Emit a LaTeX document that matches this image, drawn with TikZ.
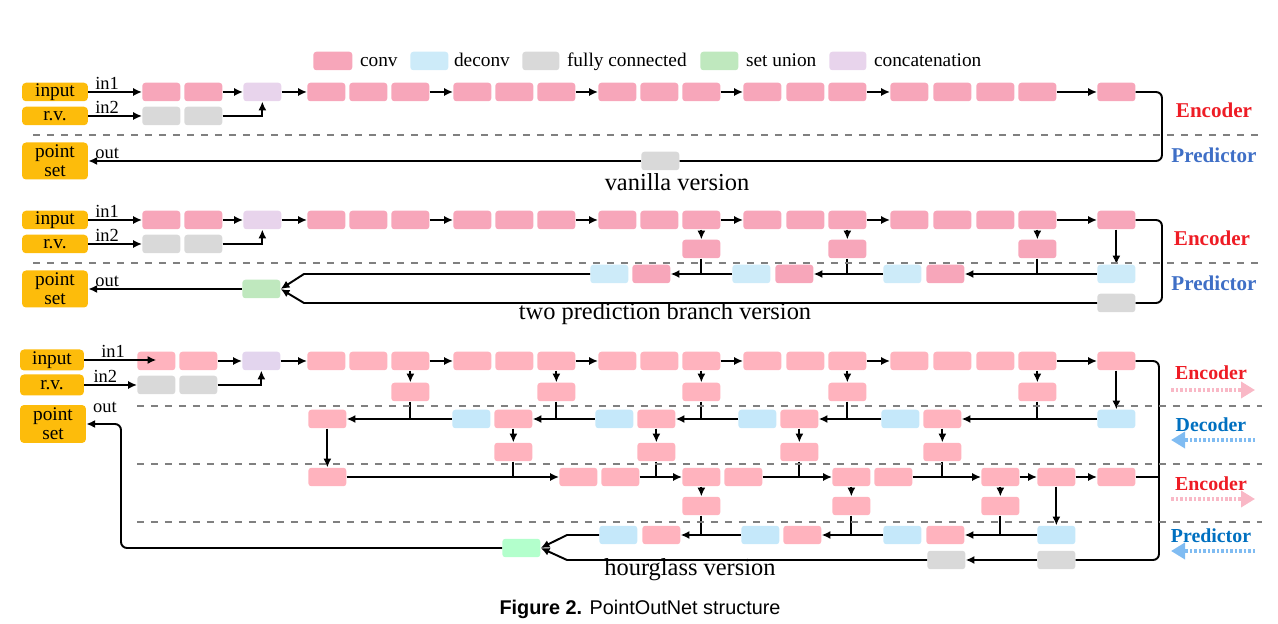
\documentclass[tikz,border=0pt]{standalone}
\usepackage{fontspec}
\setmainfont{Liberation Serif}
\newfontfamily\capfont{Liberation Sans}
\usetikzlibrary{positioning,calc,arrows.meta}

\newcommand{\fsz}[1]{\fontsize{#1}{#1}\selectfont}

\definecolor{convc}{HTML}{F7A6BA}
\definecolor{convh}{HTML}{FFB3BE}
\definecolor{deconvc}{HTML}{CDEBF9}
\definecolor{deconvh}{HTML}{C5E8FA}
\definecolor{fcc}{HTML}{D9D9D9}
\definecolor{unionc}{HTML}{BFE8BE}
\definecolor{unionh}{HTML}{B3FFCC}
\definecolor{concatc}{HTML}{E8D4EC}
\definecolor{concath}{HTML}{E3D5EE}
\definecolor{ioc}{HTML}{FDBC0B}
\definecolor{encred}{HTML}{EE1C25}
\definecolor{predblue}{HTML}{3F6FC6}
\definecolor{hblue}{HTML}{0070C0}
\definecolor{dotpink}{HTML}{F9B8C6}
\definecolor{dotblue}{HTML}{80BCF2}

\tikzset{
  blk/.style={rectangle, rounded corners=0.06cm, minimum width=0.76cm,
    minimum height=0.37cm, inner sep=0pt, anchor=west},
  conv/.style={blk, fill=convc},
  deconv/.style={blk, fill=deconvc},
  fc/.style={blk, fill=fcc},
  union/.style={blk, fill=unionc},
  concat/.style={blk, fill=concatc},
  io/.style={rectangle, rounded corners=0.08cm, fill=ioc, minimum width=1.32cm,
    minimum height=0.37cm, inner sep=0pt, align=center, font=\fsz{11}},
  arr/.style={line width=1.1pt, -{Latex[length=5pt,width=4.6pt]}},
  ln/.style={line width=1.1pt},
  sepline/.style={draw=black!50, line width=0.04cm, dash pattern=on 0.15cm off 0.13cm},
  lbl/.style={inner sep=1pt, font=\fsz{10.5}},
  lgd/.style={inner sep=0pt, font=\fsz{11}, anchor=west, text height=1.6ex, text depth=0.3ex},
  ttl/.style={font=\fsz{13.9}},
  enc/.style={font=\bfseries\fsz{12}, text=encred},
  pred/.style={font=\bfseries\fsz{12}, text=predblue},
  dotarr/.style={line width=0.07cm, dash pattern=on 0.05cm off 0.04cm,
    -{Triangle[length=0.28cm,width=0.32cm]}},
}

\begin{document}
\begin{tikzpicture}[x=0.02cm, y=-0.02cm]
  \useasboundingbox (0,0) rectangle (1278,624);

  % legend
  \node[conv, minimum width=0.78cm] (lconv) at (313,61) {};
  \node[lgd, right=0.14cm of lconv] (lconvt) {conv};
  \node[deconv] (ldec) at (410,61) {};
  \node[lgd, right=0.1cm of ldec] (ldect) {deconv};
  \node[fc, minimum width=0.74cm] (lfc) at (522,61) {};
  \node[lgd, right=0.14cm of lfc] (lfct) {fully connected};
  \node[union] (lun) at (700,61) {};
  \node[lgd, right=0.14cm of lun] (lunt) {set union};
  \node[concat, minimum width=0.74cm] (lcat) at (829,61) {};
  \node[lgd, right=0.14cm of lcat] (lcatt) {concatenation};

  % vanilla version
  \begin{scope}
    \node[io] (vin) at (55,92) {input};
    \node[io] (vrv) at (55,116) {r.v.};
    \node[io, minimum height=0.74cm] (vps) at (55,161) {point\\set};
    \node[conv] (vx1) at (142,92) {};
    \node[conv] (vx2) at (184,92) {};
    \node[fc] (vf1) at (142,116) {};
    \node[fc] (vf2) at (184,116) {};
    \node[concat] (vcat) at (243,92) {};
    \foreach \x [count=\i] in {307,349,391,453,495,537,598,640,682,743,786,828,890,933,976,1018,1097}
      \node[conv] (v\i) at (\x,92) {};
    \node[fc] (vfc) at (641,161) {};
    \coordinate (vr1) at (1162,92);
    \coordinate (vr2) at (1162,161);
    \coordinate (vd1) at (33,135);
    \coordinate (vd2) at (1262,135);

    \draw[arr] (vin) -- node[lbl, above, pos=0.35] {in1} (vx1);
    \draw[arr] (vrv) -- node[lbl, above, pos=0.35] {in2} (vf1);
    \draw[arr] (vx2) -- (vcat);
    \draw[arr] (vf2) -| (vcat);
    \draw[arr] (vcat) -- (v1);
    \foreach \a/\b in {3/4,6/7,9/10,12/13,16/17}
      \draw[arr] (v\a) -- (v\b);
    \draw[ln, rounded corners=0.12cm] (v17) -- (vr1) -- (vr2) -- (vfc);
    \draw[arr] (vfc) -- node[lbl, above, pos=0.966] {out} (vps);
    \draw[sepline] (vd1) -- (vd2);

    \node[enc] (venc) at (1214,110) {Encoder};
    \node[pred] (vpred) at (1214,155) {Predictor};
    \node[ttl] (vttl) at (677,182) {vanilla version};
  \end{scope}

  % two prediction branch version
  \begin{scope}[shift={(0,128)}]
    \node[io] (tin) at (55,92) {input};
    \node[io] (trv) at (55,116) {r.v.};
    \node[io, minimum height=0.74cm] (tps) at (55,161) {point\\set};
    \node[conv] (tx1) at (142,92) {};
    \node[conv] (tx2) at (184,92) {};
    \node[fc] (tf1) at (142,116) {};
    \node[fc] (tf2) at (184,116) {};
    \node[concat] (tcat) at (243,92) {};
    \foreach \x [count=\i] in {307,349,391,453,495,537,598,640,682,743,786,828,890,933,976,1018,1097}
      \node[conv] (t\i) at (\x,92) {};
    \node[conv] (tb1) at (682,121) {};
    \node[conv] (tb2) at (828,121) {};
    \node[conv] (tb3) at (1018,121) {};
    \node[deconv] (tp1) at (590,146) {};
    \node[conv] (tp2) at (632,146) {};
    \node[deconv] (tp3) at (732,146) {};
    \node[conv] (tp4) at (775,146) {};
    \node[deconv] (tp5) at (883,146) {};
    \node[conv] (tp6) at (926,146) {};
    \node[deconv] (tp7) at (1097,146) {};
    \node[fc] (tfc) at (1097,175) {};
    \node[union] (tun) at (242,161) {};
    \coordinate (tr1) at (1162,92);
    \coordinate (tr2) at (1162,175);
    \coordinate (tj1) at (304,146);
    \coordinate (tj2) at (304,175);
    \coordinate (td1) at (33,135);
    \coordinate (td2) at (1262,135);

    \draw[arr] (tin) -- node[lbl, above, pos=0.35] {in1} (tx1);
    \draw[arr] (trv) -- node[lbl, above, pos=0.35] {in2} (tf1);
    \draw[arr] (tx2) -- (tcat);
    \draw[arr] (tf2) -| (tcat);
    \draw[arr] (tcat) -- (t1);
    \foreach \a/\b in {3/4,6/7,9/10,12/13,16/17}
      \draw[arr] (t\a) -- (t\b);
    \draw[arr] (t9) -- (tb1);
    \draw[arr] (t12) -- (tb2);
    \draw[arr] (t16) -- (tb3);
    \draw[arr] (t17) -- (tp7);
    \draw[arr] (tp7) -- (tp6);
    \draw[arr] (tp5) -- (tp4);
    \draw[arr] (tp3) -- (tp2);
    \draw[ln] (tb1) -- (tb1 |- tp3);
    \draw[ln] (tb2) -- (tb2 |- tp5);
    \draw[ln] (tb3) -- (tb3 |- tp7);
    \draw[ln, rounded corners=0.12cm] (t17) -- (tr1) -- (tr2) -- (tfc);
    \draw[arr] (tfc) -- (tj2) -- (tun.east);
    \draw[arr] (tp1) -- (tj1) -- (tun.east);
    \draw[arr] (tun) -- node[lbl, above, pos=0.877] {out} (tps);
    \draw[sepline] (td1) -- (td2);

    \node[enc] (tenc) at (1212,110) {Encoder};
    \node[pred] (tpred) at (1214,155) {Predictor};
    \node[ttl] (tttl) at (665,186) {two prediction branch version};
  \end{scope}

  % hourglass version
  \begin{scope}[shift={(0,269)}, conv/.style={blk, fill=convh},
      deconv/.style={blk, fill=deconvh}, union/.style={blk, fill=unionh},
      concat/.style={blk, fill=concath},
      io/.append style={minimum width=1.28cm, minimum height=0.42cm},
      enc/.style={font=\bfseries\fsz{11.3}, text=encred},
      pred/.style={font=\bfseries\fsz{11.3}, text=hblue}]
    \node[io] (hin) at (52,91) {input};
    \node[io] (hrv) at (52,116) {r.v.};
    \node[io, minimum width=1.32cm, minimum height=0.76cm] (hps) at (53,155) {point\\set};
    \node[lbl] (hout) at (105,138) {out};
    \node[conv] (hx1) at (137,92) {};
    \node[conv] (hx2) at (179,92) {};
    \node[fc] (hf1) at (137,116) {};
    \node[fc] (hf2) at (179,116) {};
    \node[concat] (hcat) at (242,92) {};
    \foreach \x [count=\i] in {307,349,391,453,495,537,598,640,682,743,786,828,890,933,976,1018,1097}
      \node[conv] (h\i) at (\x,92) {};
    \foreach \x [count=\i] in {391,537,682,828,1018}
      \node[conv] (ha\i) at (\x,123) {};
    \node[conv] (hb1) at (308,150) {};
    \node[deconv] (hb2) at (452,150) {};
    \node[conv] (hb3) at (494,150) {};
    \node[deconv] (hb4) at (595,150) {};
    \node[conv] (hb5) at (637,150) {};
    \node[deconv] (hb6) at (738,150) {};
    \node[conv] (hb7) at (780,150) {};
    \node[deconv] (hb8) at (881,150) {};
    \node[conv] (hb9) at (923,150) {};
    \node[deconv] (hb10) at (1097,150) {};
    \foreach \x [count=\i] in {494,637,780,923}
      \node[conv] (hbs\i) at (\x,183) {};
    \foreach \x [count=\i] in {308,559,601,682,724,832,874,981,1037,1097}
      \node[conv] (hc\i) at (\x,208) {};
    \foreach \x [count=\i] in {682,832,981}
      \node[conv] (hcs\i) at (\x,237) {};
    \node[deconv] (hd1) at (599,266) {};
    \node[conv] (hd2) at (642,266) {};
    \node[deconv] (hd3) at (741,266) {};
    \node[conv] (hd4) at (783,266) {};
    \node[deconv] (hd5) at (883,266) {};
    \node[conv] (hd6) at (926,266) {};
    \node[deconv] (hd7) at (1037,266) {};
    \node[fc] (he1) at (927,291) {};
    \node[fc] (he2) at (1037,291) {};
    \node[union] (hun) at (502,279) {};
    \coordinate (hr1) at (1159,92);
    \coordinate (hr2) at (1159,291);
    \coordinate (hr3) at (1159,208);
    \coordinate (hj1) at (567,266);
    \coordinate (hj2) at (567,291);
    \coordinate (hl1) at (121,279);
    \coordinate (hl2) at (121,155);

    \draw[arr] (hin) -- node[lbl, above, pos=0.4] {in1} (hx1 |- hin);
    \draw[arr] (hrv) -- node[lbl, above, pos=0.4] {in2} (hf1);
    \draw[arr] (hx2) -- (hcat);
    \draw[arr] (hf2) -| (hcat);
    \draw[arr] (hcat) -- (h1);
    \foreach \a/\b in {3/4,6/7,9/10,12/13,16/17}
      \draw[arr] (h\a) -- (h\b);
    \foreach \a/\b in {3/1,6/2,9/3,12/4,16/5}
      \draw[arr] (h\a) -- (ha\b);
    \draw[arr] (h17) -- (hb10);
    \foreach \a/\b in {2/1,4/3,6/5,8/7,10/9}
      \draw[arr] (hb\a) -- (hb\b);
    \foreach \a/\b in {1/1,2/3,3/5,4/7,5/9}
      \draw[ln] (ha\a) -- (ha\a |- hb\b);
    \foreach \a/\b in {3/1,5/2,7/3,9/4}
      \draw[arr] (hb\a) -- (hbs\b);
    \draw[arr] (hb1) -- (hc1);
    \foreach \a/\b in {1/2,3/4,5/6,7/8,8/9,9/10}
      \draw[arr] (hc\a) -- (hc\b);
    \foreach \a in {1,2,3,4}
      \draw[ln] (hbs\a) -- (hbs\a |- hc1);
    \foreach \a/\b in {4/1,6/2,8/3}
      \draw[arr] (hc\a) -- (hcs\b);
    \draw[arr] (hc9) -- (hd7);
    \foreach \a/\b in {7/6,5/4,3/2}
      \draw[arr] (hd\a) -- (hd\b);
    \foreach \a in {1,2,3}
      \draw[ln] (hcs\a) -- (hcs\a |- hd1);
    \draw[ln, rounded corners=0.12cm] (h17) -- (hr1) -- (hr2) -- (he2);
    \draw[ln] (hc10) -- (hr3);
    \draw[arr] (he2) -- (he1);
    \draw[arr] (he1) -- (hj2) -- (hun.east);
    \draw[arr] (hd1) -- (hj1) -- (hun.east);
    \draw[arr, rounded corners=0.12cm] (hun) -- (hl1) -- (hl2) -- (hps);

    \coordinate (hs1) at (137,137);
    \coordinate (hs2) at (1262,137);
    \coordinate (hs3) at (137,195);
    \coordinate (hs4) at (1262,195);
    \coordinate (hs5) at (137,253);
    \coordinate (hs6) at (1262,253);
    \draw[sepline] (hs1) -- (hs2);
    \draw[sepline] (hs3) -- (hs4);
    \draw[sepline] (hs5) -- (hs6);

    \node[enc] (henc1) at (1211,104) {Encoder};
    \node[pred] (hdec) at (1211,156) {Decoder};
    \node[enc] (henc2) at (1211,215) {Encoder};
    \node[pred] (hpred) at (1211,267) {Predictor};
    \coordinate (hq1) at (1171,121);
    \coordinate (hq2) at (1255,121);
    \coordinate (hq3) at (1255,171);
    \coordinate (hq4) at (1171,171);
    \coordinate (hq5) at (1171,230);
    \coordinate (hq6) at (1255,230);
    \coordinate (hq7) at (1255,282);
    \coordinate (hq8) at (1171,282);
    \draw[dotarr, dotpink] (hq1) -- (hq2);
    \draw[dotarr, dotblue] (hq3) -- (hq4);
    \draw[dotarr, dotpink] (hq5) -- (hq6);
    \draw[dotarr, dotblue] (hq7) -- (hq8);
    \node[ttl] (httl) at (690,301) {hourglass version};
  \end{scope}

  \node[font=\capfont\fsz{11.3}] (cap) at (640,609) {\textbf{Figure 2.} PointOutNet structure};
\end{tikzpicture}
\end{document}
